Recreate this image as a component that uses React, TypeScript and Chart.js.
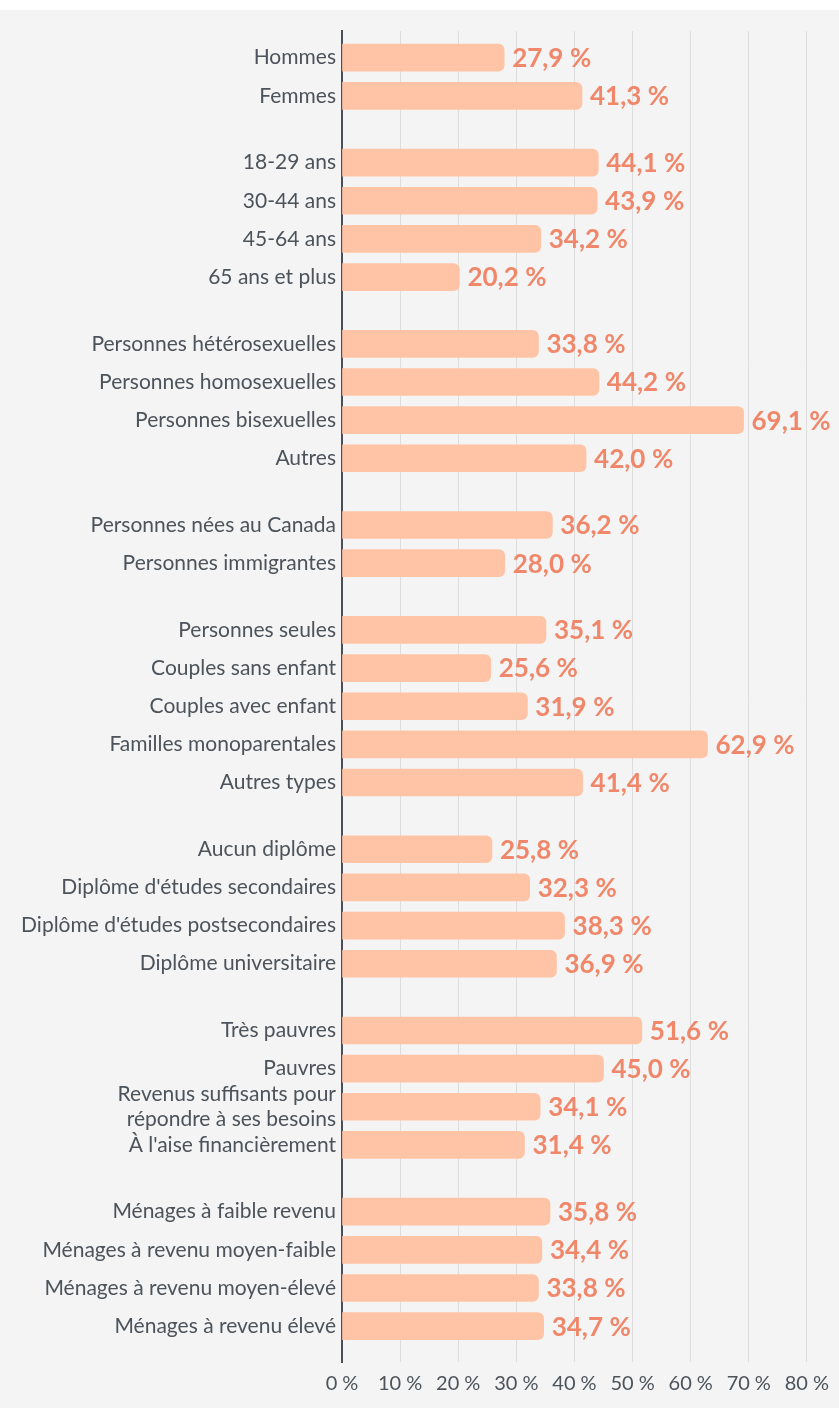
import React, { useEffect, useRef } from "react";
import { Chart, registerables } from "chart.js";

Chart.register(...registerables);

const categories: (string | string[])[] = [
  "Hommes",
  "Femmes",
  "18-29 ans",
  "30-44 ans",
  "45-64 ans",
  "65 ans et plus",
  "Personnes hétérosexuelles",
  "Personnes homosexuelles",
  "Personnes bisexuelles",
  "Autres",
  "Personnes nées au Canada",
  "Personnes immigrantes",
  "Personnes seules",
  "Couples sans enfant",
  "Couples avec enfant",
  "Familles monoparentales",
  "Autres types",
  "Aucun diplôme",
  "Diplôme d'études secondaires",
  "Diplôme d'études postsecondaires",
  "Diplôme universitaire",
  "Très pauvres",
  "Pauvres",
  ["Revenus suffisants pour", "répondre à ses besoins"],
  "À l'aise financièrement",
  "Ménages à faible revenu",
  "Ménages à revenu moyen-faible",
  "Ménages à revenu moyen-élevé",
  "Ménages à revenu élevé",
];

const values: number[] = [
  27.9, 41.3,
  44.1, 43.9, 34.2, 20.2,
  33.8, 44.2, 69.1, 42.0,
  36.2, 28.0,
  35.1, 25.6, 31.9, 62.9, 41.4,
  25.8, 32.3, 38.3, 36.9,
  51.6, 45.0, 34.1, 31.4,
  35.8, 34.4, 33.8, 34.7,
];

const groupSizes: number[] = [2, 4, 4, 2, 5, 4, 4, 4];
const xTickValues: number[] = [0, 10, 20, 30, 40, 50, 60, 70, 80];

const GROUP_GAP = 0.75;
const FONT = "Lato, 'Source Sans Pro', 'Noto Sans', sans-serif";
const BAR_COLOR = "#ffc3a6";
const LABEL_COLOR = "#f0876a";
const TEXT_COLOR = "#4d535b";
const BG = "#f3f4f3";

const positions: number[] = [];
(() => {
  let p = 0;
  groupSizes.forEach((n) => {
    for (let k = 0; k < n; k++) {
      positions.push(p);
      p += 1;
    }
    p += GROUP_GAP;
  });
})();

const fmt = (v: number) => v.toFixed(1).replace(".", ",") + "\u202f%";

const valueLabels = {
  id: "valueLabels",
  afterDatasetsDraw(chart: any) {
    const ctx = chart.ctx;
    const meta = chart.getDatasetMeta(0);
    ctx.save();
    ctx.font = `bold 26px ${FONT}`;
    ctx.fillStyle = LABEL_COLOR;
    ctx.textAlign = "left";
    ctx.textBaseline = "middle";
    meta.data.forEach((bar: any, i: number) => {
      ctx.fillText(fmt(values[i]), bar.x + 8, bar.y + 1);
    });
    ctx.restore();
  },
};

export default function App() {
  const ref = useRef<HTMLCanvasElement | null>(null);

  useEffect(() => {
    if (!ref.current) return;
    const chart = new Chart(ref.current, {
      type: "bar",
      data: {
        datasets: [
          {
            data: values.map((v, i) => ({ x: v, y: positions[i] })),
            backgroundColor: BAR_COLOR,
            borderRadius: 6,
            borderSkipped: "start",
            barThickness: 27,
          } as any,
        ],
      },
      options: {
        indexAxis: "y",
        responsive: false,
        animation: false,
        layout: { padding: { top: 21, right: 31, left: 0, bottom: 0 } },
        plugins: {
          legend: { display: false },
          tooltip: { enabled: false },
        },
        scales: {
          x: {
            type: "linear",
            position: "bottom",
            min: 0,
            max: 80,
            afterBuildTicks: (s: any) => {
              s.ticks = xTickValues.map((v) => ({ value: v }));
            },
            afterFit: (s: any) => {
              s.height = 46;
            },
            ticks: {
              callback: (v: any) => `${v}\u202f%`,
              font: { family: FONT, size: 20 },
              color: TEXT_COLOR,
              padding: 10,
            },
            grid: { color: "#dcdddc", drawTicks: false, lineWidth: 1 },
            border: { display: false },
          },
          y: {
            type: "linear",
            reverse: true,
            offset: false,
            min: -0.7,
            max: positions[positions.length - 1] + 0.94,
            afterBuildTicks: (s: any) => {
              s.ticks = positions.map((v) => ({ value: v }));
            },
            afterFit: (s: any) => {
              s.width = 342;
            },
            ticks: {
              autoSkip: false,
              callback: (v: any) => {
                const idx = positions.indexOf(v);
                return idx >= 0 ? (categories[idx] as any) : "";
              },
              font: { family: FONT, size: 21, lineHeight: 1.15 },
              color: TEXT_COLOR,
              padding: 6,
            },
            grid: { display: false, drawTicks: false },
            border: { display: true, color: "#4b5058", width: 2 },
          },
        },
      } as any,
      plugins: [valueLabels],
    });
    return () => chart.destroy();
  }, []);

  return (
    <div
      style={{
        position: "absolute",
        left: 0,
        top: 10,
        width: 839,
        height: 1398,
        background: BG,
      }}
    >
      <canvas ref={ref} width={839} height={1398} style={{ display: "block", width: 839, height: 1398 }} />
    </div>
  );
}
